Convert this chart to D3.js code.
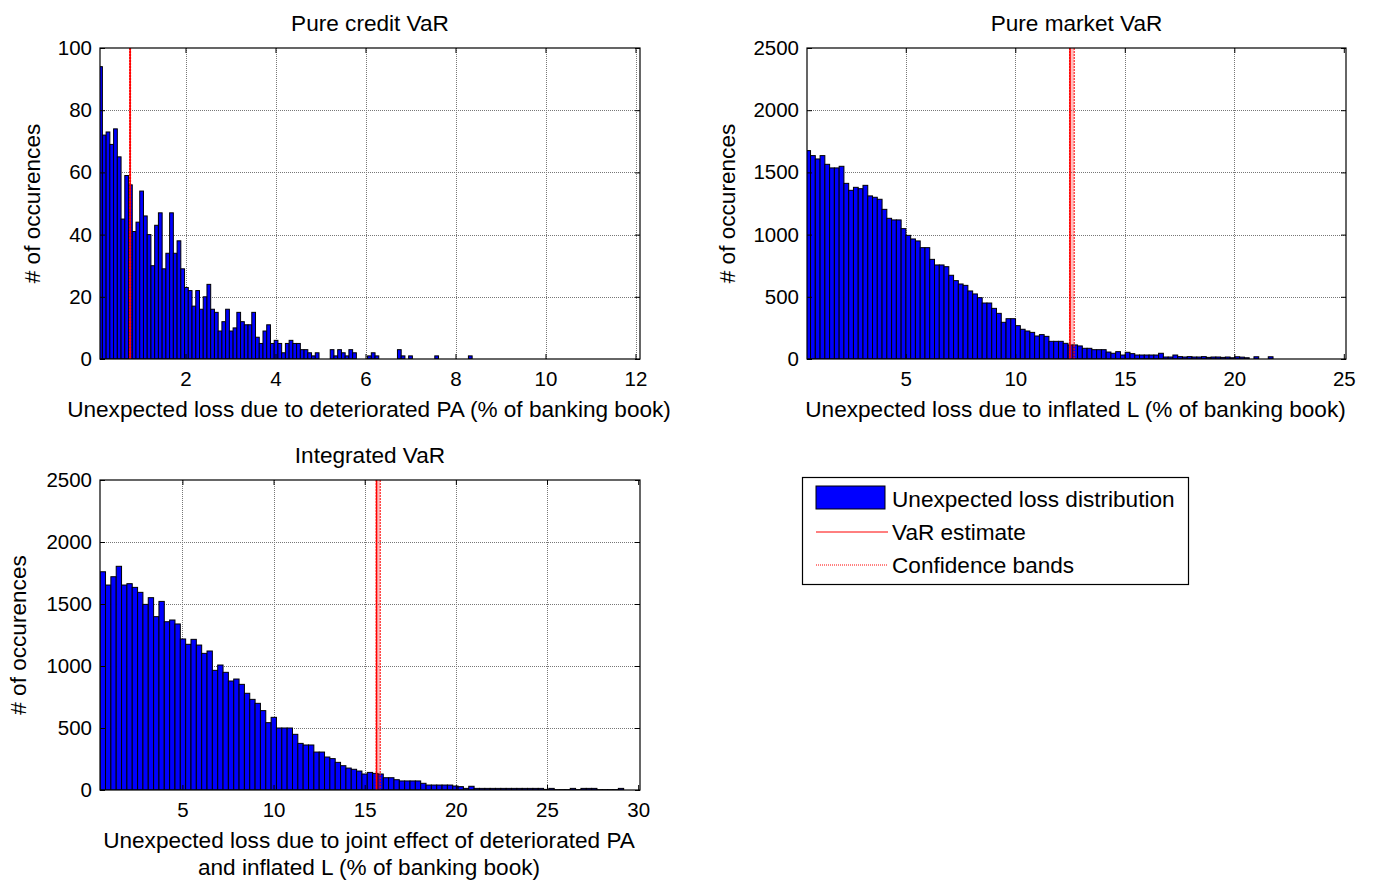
<!DOCTYPE html>
<html>
<head>
<meta charset="utf-8">
<script src="https://cdn.jsdelivr.net/npm/d3@7"></script>
<style>
  body { margin: 0; background: #fff; }
  svg text { font-family: "Liberation Sans", Arial, sans-serif; fill: #000; }
</style>
</head>
<body>
<div id="my_dataviz"></div>
<script>

// ---- data ----

// pure credit VaR histogram (100 bins)
var creditCounts = [94, 72, 73, 69, 74, 65, 45, 59, 56, 41,
    44, 54, 46, 40, 30, 43, 47, 29, 34, 47,
    34, 38, 29, 23, 22, 17, 22, 16, 20, 24,
    16, 15, 9, 12, 16, 9, 10, 15, 12, 11,
    11, 15, 7, 5, 9, 11, 5, 6, 5, 2,
    5, 6, 5, 5, 3, 3, 2, 1, 2, 0,
    0, 0, 3, 1, 3, 2, 1, 3, 2, 0,
    0, 0, 1, 2, 1, 0, 0, 0, 0, 0,
    3, 1, 0, 1, 0, 0, 0, 0, 0, 0,
    1, 0, 0, 0, 0, 0, 0, 0, 0, 1];
var creditBinStart = 0.07;
var creditBinWidth = 0.083;
var creditVaR = 0.77;
var creditBands = [0.76, 0.78];
var creditXTicks = [2, 4, 6, 8, 10, 12];
var creditYTicks = [0, 20, 40, 60, 80, 100];

// pure market VaR histogram (98 bins)
var marketCounts = [1675, 1635, 1608, 1635, 1565, 1536, 1536, 1549, 1412, 1356,
    1380, 1369, 1396, 1311, 1300, 1284, 1203, 1131, 1118, 1118,
    1048, 994, 965, 949, 895, 895, 801, 756, 756, 742,
    673, 630, 603, 592, 547, 523, 493, 450, 450, 407,
    367, 295, 324, 324, 268, 239, 225, 214, 185, 196,
    182, 142, 142, 142, 126, 113, 113, 105, 86, 86,
    75, 75, 75, 56, 46, 59, 32, 54, 43, 32,
    32, 32, 32, 32, 46, 16, 16, 32, 19, 16,
    19, 16, 16, 19, 13, 16, 16, 13, 16, 10,
    18, 15, 10, 0, 18, 0, 0, 18];
var marketBinStart = 0.434;
var marketBinWidth = 0.2177;
var marketVaR = 12.5;
var marketBands = [12.48, 12.69];
var marketXTicks = [5, 10, 15, 20, 25];
var marketYTicks = [0, 500, 1000, 1500, 2000, 2500];

// integrated VaR histogram (98 bins)
var integratedCounts = [1760, 1653, 1720, 1804, 1653, 1664, 1634, 1594, 1497, 1551,
    1398, 1521, 1357, 1371, 1339, 1218, 1175, 1215, 1169, 1102,
    1121, 965, 1008, 949, 879, 895, 852, 780, 731, 699,
    640, 543, 586, 500, 500, 500, 449, 376, 363, 363,
    306, 306, 266, 253, 223, 196, 177, 167, 153, 129,
    142, 134, 129, 99, 99, 83, 73, 73, 73, 73,
    54, 40, 40, 40, 40, 40, 32, 27, 13, 30,
    13, 13, 13, 13, 13, 13, 13, 13, 13, 13,
    13, 13, 13, 5, 13, 3, 3, 3, 13, 3,
    13, 13, 13, 3, 3, 3, 3, 13];
var integratedBinStart = 0.49;
var integratedBinWidth = 0.293;
var integratedVaR = 15.65;
var integratedBands = [15.63, 15.85];
var integratedXTicks = [5, 10, 15, 20, 25, 30];
var integratedYTicks = [0, 500, 1000, 1500, 2000, 2500];

var legendLabels = ["Unexpected loss distribution", "VaR estimate", "Confidence bands"];

// ---- drawing ----

var svg = d3.select("#my_dataviz")
    .append("svg")
    .attr("width", 1374)
    .attr("height", 880);

var labelSize = "22.6px";

function drawPanel(p) {
    var x = d3.scaleLinear().domain(p.xDomain).range([p.left, p.right]);
    var y = d3.scaleLinear().domain(p.yDomain).range([p.bottom, p.top]);

    var g = svg.append("g");

    g.append("clipPath")
        .attr("id", p.id + "_clip")
        .append("rect")
        .attr("x", p.left)
        .attr("y", p.top)
        .attr("width", p.right - p.left)
        .attr("height", p.bottom - p.top);

    // dotted grid
    g.append("g")
        .selectAll("line")
        .data(p.xTicks.filter(function (t) { return x(t) < p.right - 4; }))
        .enter()
        .append("line")
        .attr("x1", function (d) { return Math.round(x(d)) + 0.5; })
        .attr("x2", function (d) { return Math.round(x(d)) + 0.5; })
        .attr("y1", p.top)
        .attr("y2", p.bottom)
        .style("stroke", "#777")
        .style("stroke-dasharray", "1,1");
    g.append("g")
        .selectAll("line")
        .data(p.yTicks.slice(1, -1))
        .enter()
        .append("line")
        .attr("x1", p.left)
        .attr("x2", p.right)
        .attr("y1", function (d) { return Math.round(y(d)) + 0.5; })
        .attr("y2", function (d) { return Math.round(y(d)) + 0.5; })
        .style("stroke", "#777")
        .style("stroke-dasharray", "1,1");

    // histogram bars (keep bin index, skip empty bins)
    var bins = p.counts.map(function (c, i) { return { i: i, c: c }; })
        .filter(function (b) { return b.c > 0; });
    g.append("g")
        .attr("clip-path", "url(#" + p.id + "_clip)")
        .selectAll("rect")
        .data(bins)
        .enter()
        .append("rect")
        .attr("x", function (b) { return x(p.binStart + b.i * p.binWidth); })
        .attr("width", function (b) { return x(p.binStart + (b.i + 1) * p.binWidth) - x(p.binStart + b.i * p.binWidth); })
        .attr("y", function (b) { return y(b.c); })
        .attr("height", function (b) { return y(0) - y(b.c); })
        .style("fill", "#0000ff")
        .style("stroke", "#000")
        .style("stroke-width", 1);

    // confidence bands and VaR line
    g.append("rect")
        .attr("x", x(p.bands[0]))
        .attr("y", p.top)
        .attr("width", x(p.bands[1]) - x(p.bands[0]))
        .attr("height", p.bottom - p.top)
        .style("fill", "#ff0000")
        .style("opacity", 0.25);
    g.append("g")
        .selectAll("line")
        .data(p.bands)
        .enter()
        .append("line")
        .attr("x1", function (d) { return x(d); })
        .attr("x2", function (d) { return x(d); })
        .attr("y1", p.top)
        .attr("y2", p.bottom)
        .style("stroke", "#ff0000")
        .style("stroke-width", 1)
        .style("stroke-dasharray", "2,1");
    g.append("line")
        .attr("x1", x(p.VaR))
        .attr("x2", x(p.VaR))
        .attr("y1", p.top)
        .attr("y2", p.bottom)
        .style("stroke", "#ff0000")
        .style("stroke-width", 1.5);

    // axes, ticks inside on all four sides
    var fmt = function (d) { return d; };
    var axB = g.append("g")
        .attr("transform", "translate(0," + p.bottom + ")")
        .call(d3.axisBottom(x).tickValues(p.xTicks).tickSizeInner(-5).tickSizeOuter(0).tickPadding(12).tickFormat(fmt));
    var axT = g.append("g")
        .attr("transform", "translate(0," + p.top + ")")
        .call(d3.axisTop(x).tickValues(p.xTicks).tickSizeInner(-5).tickSizeOuter(0).tickFormat(""));
    var axL = g.append("g")
        .attr("transform", "translate(" + p.left + ",0)")
        .call(d3.axisLeft(y).tickValues(p.yTicks).tickSizeInner(-5).tickSizeOuter(0).tickPadding(8).tickFormat(fmt));
    var axR = g.append("g")
        .attr("transform", "translate(" + p.right + ",0)")
        .call(d3.axisRight(y).tickValues(p.yTicks).tickSizeInner(-5).tickSizeOuter(0).tickFormat(""));
    [axB, axT, axL, axR].forEach(function (a) {
        a.selectAll("text").style("font-size", "20.5px").style("font-family", "Liberation Sans, Arial, sans-serif");
        a.select(".domain").remove();
    });

    // box
    g.append("rect")
        .attr("x", p.left)
        .attr("y", p.top)
        .attr("width", p.right - p.left)
        .attr("height", p.bottom - p.top)
        .style("fill", "none")
        .style("stroke", "#000")
        .style("stroke-width", 1.2);

    // title and labels
    g.append("text")
        .attr("x", (p.left + p.right) / 2)
        .attr("y", p.top - 17)
        .attr("text-anchor", "middle")
        .style("font-size", labelSize)
        .text(p.title);
    p.xLabel.forEach(function (line, i) {
        g.append("text")
            .attr("x", (p.left + p.right) / 2 - 1)
            .attr("y", p.bottom + 58 + i * 27)
            .attr("text-anchor", "middle")
            .style("font-size", labelSize)
            .text(line);
    });
    g.append("text")
        .attr("transform", "translate(" + p.yLabelX + "," + ((p.top + p.bottom) / 2) + ") rotate(-90)")
        .attr("text-anchor", "middle")
        .style("font-size", labelSize)
        .text("# of occurences");
}

drawPanel({
    id: "credit", counts: creditCounts, binStart: creditBinStart, binWidth: creditBinWidth,
    VaR: creditVaR, bands: creditBands, xTicks: creditXTicks, yTicks: creditYTicks,
    xDomain: [0.1, 12.1], yDomain: [0, 100],
    left: 100, right: 640, top: 48, bottom: 359, yLabelX: 40,
    title: "Pure credit VaR",
    xLabel: ["Unexpected loss due to deteriorated PA (% of banking book)"]
});

drawPanel({
    id: "market", counts: marketCounts, binStart: marketBinStart, binWidth: marketBinWidth,
    VaR: marketVaR, bands: marketBands, xTicks: marketXTicks, yTicks: marketYTicks,
    xDomain: [0.49, 25.1], yDomain: [0, 2500],
    left: 807, right: 1346, top: 48, bottom: 359, yLabelX: 735,
    title: "Pure market VaR",
    xLabel: ["Unexpected loss due to inflated L (% of banking book)"]
});

drawPanel({
    id: "integrated", counts: integratedCounts, binStart: integratedBinStart, binWidth: integratedBinWidth,
    VaR: integratedVaR, bands: integratedBands, xTicks: integratedXTicks, yTicks: integratedYTicks,
    xDomain: [0.48, 30.1], yDomain: [0, 2500],
    left: 100, right: 640, top: 480, bottom: 790, yLabelX: 26,
    title: "Integrated VaR",
    xLabel: ["Unexpected loss due to joint effect of deteriorated PA", "and inflated L (% of banking book)"]
});

// legend
var lg = svg.append("g");
lg.append("rect")
    .attr("x", 802.5).attr("y", 477.5)
    .attr("width", 386).attr("height", 107)
    .style("fill", "#fff").style("stroke", "#000").style("stroke-width", 1.2);
lg.append("rect")
    .attr("x", 816).attr("y", 486)
    .attr("width", 69).attr("height", 23)
    .style("fill", "#0000ff").style("stroke", "#000");
lg.append("line")
    .attr("x1", 816).attr("x2", 888).attr("y1", 532).attr("y2", 532)
    .style("stroke", "#ff0000");
lg.append("line")
    .attr("x1", 816).attr("x2", 888).attr("y1", 565).attr("y2", 565)
    .style("stroke", "#ff0000").style("stroke-dasharray", "1,1");
lg.selectAll("text.leg")
    .data(legendLabels)
    .enter()
    .append("text")
    .attr("class", "leg")
    .attr("x", 892)
    .attr("y", function (d, i) { return 507 + i * 33; })
    .style("font-size", labelSize)
    .text(function (d) { return d; });

</script>
</body>
</html>
